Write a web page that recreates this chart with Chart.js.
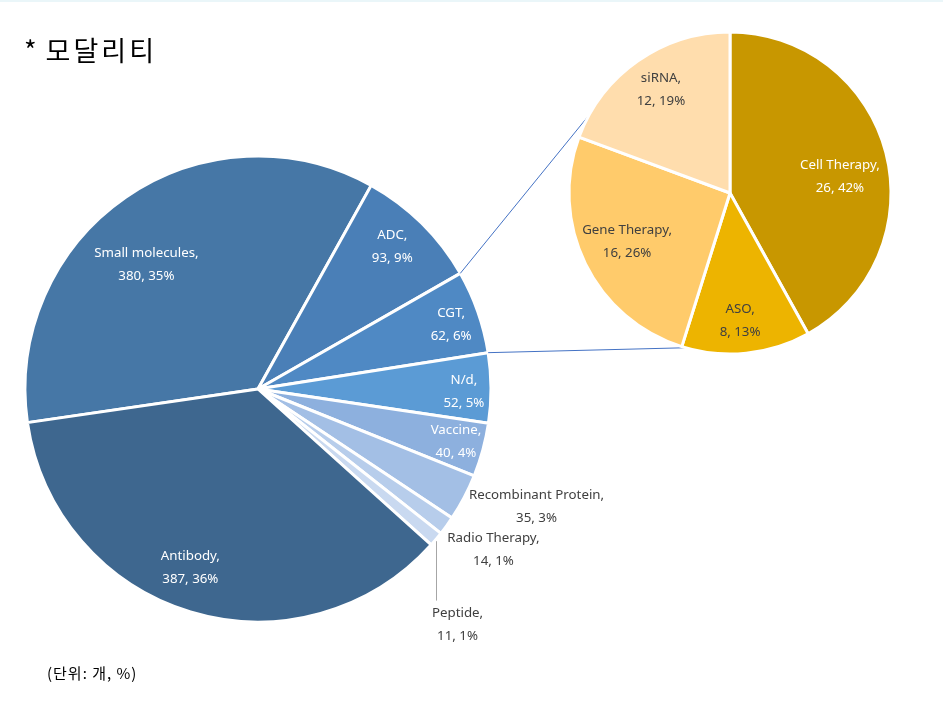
<!DOCTYPE html>
<html><head><meta charset="utf-8">
<script src="https://cdn.jsdelivr.net/npm/chart.js@4.4.1/dist/chart.umd.min.js"></script>
<style>
html,body{margin:0;padding:0;background:#fff;}
#wrap{position:relative;width:943px;height:717px;overflow:hidden;background:#fff;font-family:"Noto Sans CJK KR","Noto Sans",sans-serif;}
#topline{position:absolute;left:0;top:0;width:943px;height:2px;background:#eaf6f9;}
canvas{position:absolute;left:0;top:0;}
#title{position:absolute;left:24px;top:35px;font-size:27px;line-height:30px;letter-spacing:3px;color:#000;white-space:nowrap;}
#title span{letter-spacing:9px;}
#unit{position:absolute;left:47px;top:663px;font-size:15px;line-height:19px;letter-spacing:1px;color:#000;white-space:nowrap;}
</style></head>
<body><div id="wrap">
<div id="topline"></div>
<canvas id="c1" width="943" height="717"></canvas>
<canvas id="c2" width="943" height="717"></canvas>
<div id="title"><span>*</span>모달리티</div>
<div id="unit">(단위: 개, %)</div>
</div>
<script>
// ---- data ----
const mainCategories = ["Small molecules","ADC","CGT","N/d","Vaccine","Recombinant Protein","Radio Therapy","Peptide","Antibody"];
const mainValues = [380,93,62,52,40,35,14,11,387];
const cgtCategories = ["Cell Therapy","ASO","Gene Therapy","siRNA"];
const cgtValues = [26,8,16,12];

// ---- styles ----
const mainColors = ["#4677A6","#4A7FB7","#4F89C4","#5B9BD5","#8DB0DE","#A3BFE5","#B7CDEB","#C9D9F0","#3E678F"];
const mainTextColors = ["#fff","#fff","#fff","#fff","#fff","#404040","#404040","#404040","#fff"];
// label placement: [radius fraction, angle shift from slice middle in degrees]
const mainLabelPos = [[0.717,-7.3],[0.841,-1.4],[0.874,0.9],[0.884,1.0],[0.879,-0.3],[1.297,-4.9],[1.224,-1.6],[1.325,9.6],[0.82,3.9]];
const cgtColors = ["#C89700","#EDB400","#FFCB6B","#FFDDAD"];
const cgtTextColors = ["#fff","#404040","#404040","#404040"];
const cgtLabelPos = [[0.690,6.2],[0.797,1.3],[0.706,1.0],[0.770,1.0]];
const LABEL_FONT = '13.3px "Noto Sans", "Noto Sans CJK KR", sans-serif';

function pct(vals){const t=vals.reduce((a,b)=>a+b,0);return vals.map(v=>Math.round(v/t*100)+'%');}
const mainPct = pct(mainValues), cgtPct = pct(cgtValues);

function makeLabelPlugin(cats, vals, pcts, pos, colors, leaderIndex){
  return {
    id:'lbl',
    afterDatasetsDraw(chart){
      const ctx = chart.ctx;
      const meta = chart.getDatasetMeta(0);
      ctx.save();
      ctx.font = LABEL_FONT;
      ctx.textAlign = 'center';
      ctx.textBaseline = 'middle';
      meta.data.forEach((arc,i)=>{
        const p = arc.getProps(['x','y','startAngle','endAngle','outerRadius'], true);
        const mid = (p.startAngle+p.endAngle)/2;
        const a = mid + pos[i][1]*Math.PI/180;
        const r = p.outerRadius*pos[i][0];
        const lx = p.x + r*Math.cos(a), ly = p.y + r*Math.sin(a);
        if (i === leaderIndex){
          const x0 = p.x + p.outerRadius*Math.cos(mid);
          const y0 = p.y + p.outerRadius*Math.sin(mid);
          ctx.strokeStyle = '#a6a6a6'; ctx.lineWidth = 1;
          ctx.beginPath(); ctx.moveTo(Math.round(x0)+0.5, y0+2); ctx.lineTo(Math.round(x0)+0.5, ly-24); ctx.stroke();
        }
        ctx.fillStyle = colors[i];
        ctx.fillText(cats[i]+',', lx, ly-11.5);
        ctx.fillText(vals[i]+', '+pcts[i], lx, ly+11.5);
      });
      ctx.restore();
    }
  };
}

const mainChart = new Chart(document.getElementById('c1'), {
  type:'pie',
  data:{labels:mainCategories, datasets:[{data:mainValues, backgroundColor:mainColors, borderColor:'#fff', borderWidth:3, hoverOffset:0}]},
  options:{responsive:false, animation:false, rotation:-98.3, radius:233,
    layout:{padding:{left:25, top:156, right:452, bottom:95}},
    plugins:{legend:{display:false}, tooltip:{enabled:false}}},
  plugins:[makeLabelPlugin(mainCategories, mainValues, mainPct, mainLabelPos, mainTextColors, 7)]
});

const cgtIndex = mainCategories.indexOf('CGT');
const connectorAngles = [299, 196]; // degrees clockwise from top on the secondary pie
const connectorPlugin = {
  id:'conn',
  beforeDatasetsDraw(chart){
    const src = mainChart.getDatasetMeta(0).data[cgtIndex].getProps(['x','y','startAngle','endAngle','outerRadius'], true);
    const dst = chart.getDatasetMeta(0).data[0].getProps(['x','y','outerRadius'], true);
    const ctx = chart.ctx;
    ctx.save();
    ctx.strokeStyle = '#4472C4'; ctx.lineWidth = 1;
    [src.startAngle, src.endAngle].forEach((ang,k)=>{
      const sx = src.x + src.outerRadius*Math.cos(ang), sy = src.y + src.outerRadius*Math.sin(ang);
      const b = (connectorAngles[k]-90)*Math.PI/180;
      const ex = dst.x + dst.outerRadius*Math.cos(b), ey = dst.y + dst.outerRadius*Math.sin(b);
      ctx.beginPath(); ctx.moveTo(sx, sy); ctx.lineTo(ex, ey); ctx.stroke();
    });
    ctx.restore();
  }
};

new Chart(document.getElementById('c2'), {
  type:'pie',
  data:{labels:cgtCategories, datasets:[{data:cgtValues, backgroundColor:cgtColors, borderColor:'#fff', borderWidth:3, hoverOffset:0}]},
  options:{responsive:false, animation:false, rotation:0, radius:161,
    layout:{padding:{left:569, top:32, right:52, bottom:363}},
    plugins:{legend:{display:false}, tooltip:{enabled:false}}},
  plugins:[connectorPlugin, makeLabelPlugin(cgtCategories, cgtValues, cgtPct, cgtLabelPos, cgtTextColors, -1)]
});
</script>
</body></html>
